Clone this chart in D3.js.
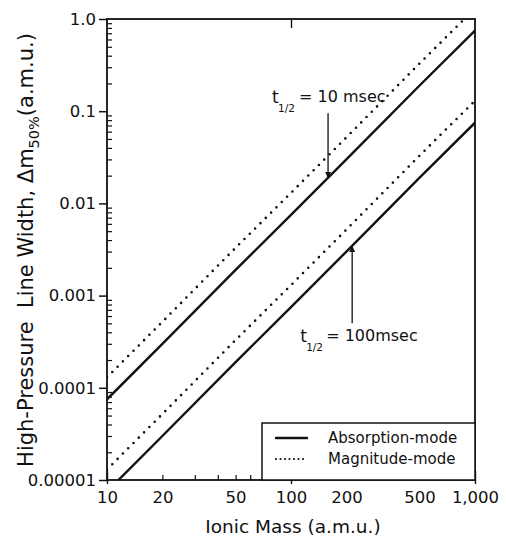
<!DOCTYPE html>
<html>
<head>
<meta charset="utf-8">
<script src="https://cdn.jsdelivr.net/npm/d3@7"></script>
<style>
  html, body { margin: 0; padding: 0; background: #fff; }
  svg { display: block; font-family: "DejaVu Sans", sans-serif; }
</style>
</head>
<body>
<svg id="chart" width="506" height="541"></svg>
<script>
// ---- data ----
const masses = [10, 20, 50, 100, 200, 500, 1000];
const absorption10ms = [7.5e-5, 3.0e-4, 1.9e-3, 7.5e-3, 0.030, 0.19, 0.75];
const magnitude10ms  = [1.3e-4, 5.2e-4, 3.3e-3, 0.013, 0.052, 0.33, 1.3];
const absorption100ms = [7.5e-6, 3.0e-5, 1.9e-4, 7.5e-4, 3.0e-3, 0.019, 0.075];
const magnitude100ms  = [1.3e-5, 5.2e-5, 3.3e-4, 1.3e-3, 5.2e-3, 0.033, 0.13];

const xTickValues = [10, 20, 50, 100, 200, 500, 1000];
const xTickLabels = ["10", "20", "50", "100", "200", "500", "1,000"];
const yTickValues = [1e-5, 1e-4, 1e-3, 1e-2, 1e-1, 1];
const yTickLabels = ["0.00001", "0.0001", "0.001", "0.01", "0.1", "1.0"];

const legendLabels = ["Absorption-mode", "Magnitude-mode"];
// annotation arrows: mass where arrow points, tail value, head value
const annot10 = { mass: 159, tail: 0.095, head: 0.0189, text: "= 10 msec" };
const annot100 = { mass: 215, tail: 5.0e-4, head: 3.46e-3, text: "= 100msec" };

// ---- layout ----
const L = 107, R = 475, T = 19, B = 480;
const svg = d3.select("#chart");
const x = d3.scaleLog().domain([10, 1000]).range([L, R]);
const y = d3.scaleLog().domain([1e-5, 1]).range([B, T]);
const ink = "#111";

svg.append("defs").append("clipPath").attr("id", "plot")
  .append("rect").attr("x", L).attr("y", T).attr("width", R - L).attr("height", B - T);

const minorX = [];
for (const dec of [10, 100]) for (let k = 2; k <= 9; k++) minorX.push(dec * k);
const minorY = [];
for (const dec of [1e-5, 1e-4, 1e-3, 1e-2, 1e-1]) for (let k = 2; k <= 9; k++) minorY.push(dec * k);

// Y axis: major ticks outward with labels
const yAx = svg.append("g").attr("transform", `translate(${L},0)`)
  .call(d3.axisLeft(y).tickValues(yTickValues).tickFormat((d, i) => yTickLabels[i]).tickSize(8).tickPadding(3));
yAx.select(".domain").remove();
yAx.selectAll("line").attr("stroke", ink).attr("stroke-width", 1.5);
yAx.selectAll("text").attr("font-size", 16.5).attr("fill", ink).attr("font-family", "DejaVu Sans");
const yMin = svg.append("g").attr("transform", `translate(${L},0)`)
  .call(d3.axisRight(y).tickValues(minorY).tickFormat("").tickSize(5));
yMin.select(".domain").remove();
yMin.selectAll("line").attr("stroke", ink).attr("stroke-width", 1.2);

// X axis labels
const xAx = svg.append("g").attr("transform", `translate(0,${B})`)
  .call(d3.axisBottom(x).tickValues(xTickValues).tickFormat((d, i) => xTickLabels[i]).tickSize(0).tickPadding(11));
xAx.select(".domain").remove();
xAx.selectAll("text").attr("font-size", 16.5).attr("fill", ink).attr("font-family", "DejaVu Sans");
const xMin = svg.append("g").attr("transform", `translate(0,${B})`)
  .call(d3.axisTop(x).tickValues(minorX).tickFormat("").tickSize(5));
xMin.select(".domain").remove();
xMin.selectAll("line").attr("stroke", ink).attr("stroke-width", 1.2);
const xDec = svg.append("g").attr("transform", `translate(0,${B})`)
  .call(d3.axisTop(x).tickValues([10, 100, 1000]).tickFormat("").tickSize(9));
xDec.select(".domain").remove();
xDec.selectAll("line").attr("stroke", ink).attr("stroke-width", 1.4).attr("y1", 4);
const xTop = svg.append("g").attr("transform", `translate(0,${T})`)
  .call(d3.axisBottom(x).tickValues([100]).tickFormat("").tickSize(9));
xTop.select(".domain").remove();
xTop.selectAll("line").attr("stroke", ink).attr("stroke-width", 1.4);

// frame
svg.append("rect").attr("x", L).attr("y", T).attr("width", R - L).attr("height", B - T)
  .attr("fill", "none").attr("stroke", ink).attr("stroke-width", 1.8);

// series lines
const line = d3.line().x(d => x(d[0])).y(d => y(d[1]));
const series = [
  { vals: absorption10ms, dotted: false },
  { vals: magnitude10ms, dotted: true },
  { vals: absorption100ms, dotted: false },
  { vals: magnitude100ms, dotted: true }
];
const gLines = svg.append("g").attr("clip-path", "url(#plot)");
series.forEach(s => {
  gLines.append("path")
    .attr("d", line(masses.map((m, i) => [m, s.vals[i]])))
    .attr("fill", "none").attr("stroke", ink)
    .attr("stroke-width", s.dotted ? 2.6 : 2.4)
    .attr("stroke-linecap", "round")
    .attr("stroke-dasharray", s.dotted ? "0 7.5" : null);
});

// arrows
const defs = svg.select("defs");
defs.append("marker").attr("id", "arrow").attr("viewBox", "0 0 10 10")
  .attr("refX", 10).attr("refY", 5).attr("markerWidth", 6).attr("markerHeight", 8)
  .attr("markerUnits", "userSpaceOnUse").attr("orient", "auto")
  .append("path").attr("d", "M0,0 L10,5 L0,10 Z").attr("fill", ink);
[annot10, annot100].forEach(a => {
  svg.append("line")
    .attr("x1", x(a.mass)).attr("x2", x(a.mass))
    .attr("y1", y(a.tail)).attr("y2", y(a.head))
    .attr("stroke", ink).attr("stroke-width", 1.3)
    .attr("marker-end", "url(#arrow)");
});

// annotation texts
function tLabel(xp, yp, rest, eqGap) {
  const g = svg.append("g").attr("fill", ink).attr("font-family", "DejaVu Sans");
  g.append("text").attr("x", xp).attr("y", yp).attr("font-size", 17).text("t");
  g.append("text").attr("x", xp + 6).attr("y", yp + 9).attr("font-size", 10.5).text("1/2");
  g.append("text").attr("x", xp + 6 + eqGap).attr("y", yp - 1).attr("font-size", 16).text(rest);
}
tLabel(x(annot10.mass) - 56, y(annot10.tail) - 10, annot10.text, 21);
tLabel(x(annot100.mass) - 52, y(annot100.tail) + 19, annot100.text, 20);

// legend
const lg = svg.append("g");
lg.append("rect").attr("x", 262).attr("y", 423).attr("width", R - 262).attr("height", B - 423)
  .attr("fill", "#fff").attr("stroke", ink).attr("stroke-width", 1.5);
[0, 1].forEach(i => {
  const yy = 438 + i * 21;
  lg.append("line").attr("x1", 276).attr("x2", 307).attr("y1", yy).attr("y2", yy)
    .attr("stroke", ink).attr("stroke-width", i ? 2.2 : 2.4).attr("stroke-linecap", "round")
    .attr("stroke-dasharray", i ? "0 4.5" : null);
  lg.append("text").attr("x", 328).attr("y", yy + 5).attr("font-size", 15).attr("fill", ink)
    .text(legendLabels[i]);
});

// axis titles
svg.append("text").attr("x", 293).attr("y", 533).attr("text-anchor", "middle")
  .attr("font-size", 18.5).attr("fill", ink).text("Ionic Mass (a.m.u.)");

const yt = svg.append("text").attr("transform", "translate(33,250) rotate(-90)")
  .attr("text-anchor", "middle").attr("font-size", 21).attr("fill", ink)
  .style("white-space", "pre");
yt.append("tspan").text("High-Pressure  Line Width, \u0394m");
yt.append("tspan").attr("dy", 6).attr("font-size", 14.5).text("50%");
yt.append("tspan").attr("dy", -6).text("(a.m.u.)");
</script>
</body>
</html>
